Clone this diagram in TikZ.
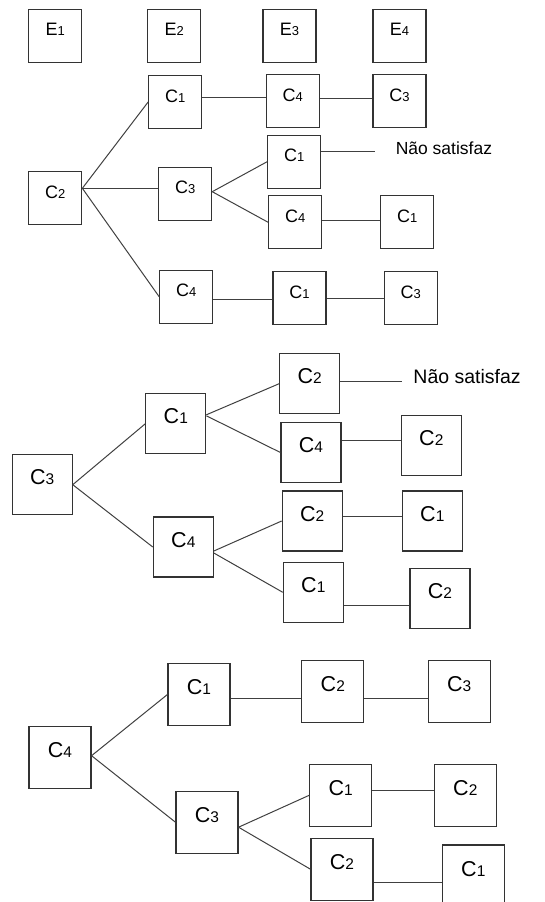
\documentclass[tikz,border=0pt]{standalone}
\usepackage{fontspec}
\setmainfont{Liberation Sans}
\usetikzlibrary{positioning}
\newcommand{\lbl}[2]{#1\scalebox{0.72}{#2}}

\begin{document}
\begin{tikzpicture}[x=1pt,y=-1pt,
  box/.style={draw=black!80,line width=1.1pt,inner sep=0pt,text height=0pt,text depth=0pt},
  bsmall/.style={box,minimum size=53pt,font=\fontsize{18}{18}\selectfont},
  bmid/.style={box,minimum size=60pt,font=\fontsize{21.5}{21.5}\selectfont},
  blarge/.style={box,minimum size=62pt,font=\fontsize{21.5}{21.5}\selectfont},
  nsat/.style={inner sep=0pt,anchor=west,text height=0pt,text depth=0pt},
  ln/.style={draw=black!75,line width=1pt}]
  \useasboundingbox (0,0) rectangle (545,902);

  % stages
  \node[bsmall] (e1) at (55.3,35.7)  {\lbl{E}{1}};
  \node[bsmall] (e2) at (174.2,35.7) {\lbl{E}{2}};
  \node[bsmall] (e3) at (289.5,35.7) {\lbl{E}{3}};
  \node[bsmall] (e4) at (399.5,35.7) {\lbl{E}{4}};

  % tree from C2
  \node[bsmall] (a)    at (55.3,198.3)  {\lbl{C}{2}};
  \node[bsmall] (a1)   at (175.2,102)   {\lbl{C}{1}};
  \node[bsmall] (a14)  at (292.8,101)   {\lbl{C}{4}};
  \node[bsmall] (a143) at (399.5,101)   {\lbl{C}{3}};
  \node[bsmall] (a3)   at (185.2,193.7) {\lbl{C}{3}};
  \node[bsmall] (a31)  at (294.2,161.7) {\lbl{C}{1}};
  \node[bsmall] (a34)  at (295.2,222.3) {\lbl{C}{4}};
  \node[bsmall] (a341) at (407.2,222.3) {\lbl{C}{1}};
  \node[bsmall] (a4)   at (186.2,296.7) {\lbl{C}{4}};
  \node[bsmall] (a41)  at (299.5,298)   {\lbl{C}{1}};
  \node[bsmall] (a413) at (410.8,298)   {\lbl{C}{3}};
  \coordinate (a0) at ([yshift=10pt]a.east);
  \draw[ln] (a0) -- (a1.west);
  \draw[ln] (a0) -- (a0 -| a3.west);
  \draw[ln] (a0) -- (a4.west);
  \draw[ln] ([yshift=5pt]a1.east) -- ([yshift=5pt]a1.east -| a14.west);
  \draw[ln] ([yshift=3pt]a14.east) -- ([yshift=3pt]a14.east -| a143.west);
  \draw[ln] ([yshift=2pt]a3.east) -- (a31.west);
  \draw[ln] ([yshift=2pt]a3.east) -- (a34.west);
  \draw[ln] ([yshift=10pt]a31.east) -- ++(53.3,0) coordinate (n1);
  \node[nsat,font=\fontsize{17.5}{17.5}\selectfont,right=21pt of n1,yshift=-2.3pt] (s1) {Não satisfaz};
  \draw[ln] ([yshift=2.3pt]a34.east) -- ([yshift=2.3pt]a34.east -| a341.west);
  \draw[ln] ([yshift=-2.3pt]a4.east) -- ([yshift=-2.3pt]a4.east -| a41.west);
  \draw[ln] (a41.east) -- (a41.east -| a413.west);

  % tree from C3
  \node[bmid] (b)    at (42.2,484.7)  {\lbl{C}{3}};
  \node[bmid] (b1)   at (175.8,423.8) {\lbl{C}{1}};
  \node[bmid] (b12)  at (309.7,383.7) {\lbl{C}{2}};
  \node[bmid] (b14)  at (311,452.5)   {\lbl{C}{4}};
  \node[bmid] (b142) at (431.3,445.8) {\lbl{C}{2}};
  \node[bmid] (b4)   at (183.3,547)   {\lbl{C}{4}};
  \node[bmid] (b42)  at (312.2,521)   {\lbl{C}{2}};
  \node[bmid] (b421) at (432.3,521)   {\lbl{C}{1}};
  \node[bmid] (b41)  at (313.3,592.3) {\lbl{C}{1}};
  \node[bmid] (b412) at (440,598.7)   {\lbl{C}{2}};
  \draw[ln] (b.east) -- (b1.west);
  \draw[ln] (b.east) -- (b4.west);
  \draw[ln] ([yshift=9pt]b1.east) -- (b12.west);
  \draw[ln] ([yshift=8pt]b1.east) -- (b14.west);
  \draw[ln] ([yshift=2.7pt]b12.east) -- ++(62,0) coordinate (n2);
  \node[nsat,font=\fontsize{19.5}{19.5}\selectfont,right=11pt of n2,yshift=-2pt] (s2) {Não satisfaz};
  \draw[ln] ([yshift=12pt]b14.east) -- ([yshift=12pt]b14.east -| b142.west);
  \draw[ln] ([yshift=-4pt]b4.east) -- (b42.west);
  \draw[ln] ([yshift=-6pt]b4.east) -- (b41.west);
  \draw[ln] ([yshift=5pt]b42.east) -- ([yshift=5pt]b42.east -| b421.west);
  \draw[ln] ([yshift=-13.4pt]b41.east) -- ([yshift=-13.4pt]b41.east -| b412.west);

  % tree from C4
  \node[blarge] (c)    at (60,757.7)    {\lbl{C}{4}};
  \node[blarge] (c1)   at (199,694.5)   {\lbl{C}{1}};
  \node[blarge] (c12)  at (332.8,691.8) {\lbl{C}{2}};
  \node[blarge] (c123) at (459.2,691.8) {\lbl{C}{3}};
  \node[blarge] (c3)   at (207,822.2)   {\lbl{C}{3}};
  \node[blarge] (c31)  at (340.7,795.3) {\lbl{C}{1}};
  \node[blarge] (c312) at (465.3,795.3) {\lbl{C}{2}};
  \node[blarge] (c32)  at (342,869.2)   {\lbl{C}{2}};
  \node[blarge] (c321) at (473.3,876)   {\lbl{C}{1}};
  \draw[ln] ([yshift=2pt]c.east) -- (c1.west);
  \draw[ln] ([yshift=2pt]c.east) -- (c3.west);
  \draw[ln] ([yshift=-3.5pt]c1.east) -- ([yshift=-3.5pt]c1.east -| c12.west);
  \draw[ln] ([yshift=-6.2pt]c12.east) -- ([yshift=-6.2pt]c12.east -| c123.west);
  \draw[ln] ([yshift=-5pt]c3.east) -- (c31.west);
  \draw[ln] ([yshift=-5pt]c3.east) -- (c32.west);
  \draw[ln] ([yshift=5.3pt]c31.east) -- ([yshift=5.3pt]c31.east -| c312.west);
  \draw[ln] ([yshift=-13.5pt]c32.east) -- ([yshift=-13.5pt]c32.east -| c321.west);
\end{tikzpicture}
\end{document}
